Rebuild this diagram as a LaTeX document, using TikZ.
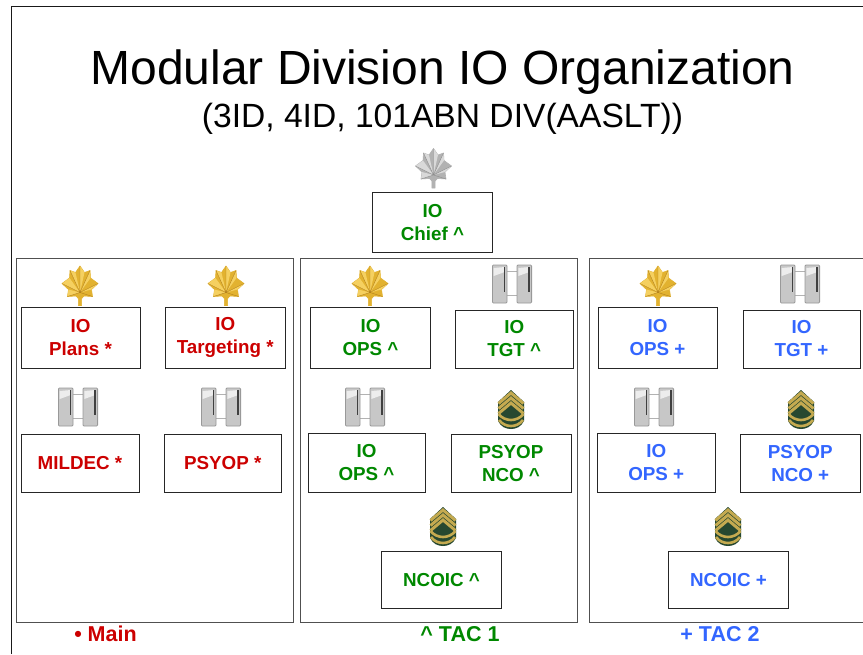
\documentclass[tikz,border=0pt]{standalone}
\usepackage{fontspec}
\setmainfont{Liberation Sans}
\definecolor{redtxt}{RGB}{204,0,0}
\definecolor{greentxt}{RGB}{0,136,0}
\definecolor{bluetxt}{RGB}{51,102,255}
\definecolor{panelline}{RGB}{80,80,80}
\tikzset{
  lbl/.style={font=\fontsize{18.8}{23}\selectfont\bfseries,align=center,inner sep=0pt},
  legend/.style={font=\fontsize{21.5}{21.5}\selectfont\bfseries,inner sep=0pt},
  role/.style={draw=black!85,line width=1pt,fill=white,lbl,execute at begin node={\vspace*{2pt}}},
  panel/.style={draw=panelline,line width=1pt},
  pics/leaf/.style n args={3}{code={
    \fill[#1,draw=#1,line width=.6pt,line join=round] (0,-19.5) -- (4.5,-13) -- (10,-15) -- (10.5,-7.5) -- (18,-2) -- (11.5,4) -- (12.5,11) -- (4,10.5) -- (1.6,13) -- (1.6,20) -- (-1.6,20) -- (-1.6,13) -- (-4,10.5) -- (-12.5,11) -- (-11.5,4) -- (-18,-2) -- (-10.5,-7.5) -- (-10,-15) -- (-4.5,-13) -- cycle;
    \fill[#2] (0,7) -- (0,-19.5) -- (4.5,-13) -- cycle;
    \fill[#2] (0,7) -- (10,-15) -- (10.5,-7.5) -- cycle;
    \fill[#2] (0,7) -- (18,-2) -- (11.5,4) -- cycle;
    \fill[#2] (0,7) -- (-10,-15) -- (-4.5,-13) -- cycle;
    \fill[#2] (0,7) -- (-18,-2) -- (-10.5,-7.5) -- cycle;
    \fill[#2] (0,7) -- (-12.5,11) -- (-11.5,4) -- cycle;
    \draw[#3,line width=.4pt] (0,7) -- (0,-19.5) (0,7) -- (10,-15) (0,7) -- (18,-2) (0,7) -- (12.5,11) (0,7) -- (-10,-15) (0,7) -- (-18,-2) (0,7) -- (-12.5,11);
  }},
  pics/bars/.style={code={
    \draw[black!30,line width=.8pt] (-6,-13) -- (6,-13) (-6,11) -- (6,11);
    \foreach \s in {-1,1}{
      \begin{scope}[shift={(\s*12.3,0)}]
        \fill[black!22,draw=black!40,line width=.8pt,rounded corners=1pt] (-7.3,-19) rectangle (7.3,19);
        \fill[black!7] (-6,-16) -- (5,-17) -- (5,-12) -- (-6,-8) -- cycle;
        \fill[black!75] (4,-17) rectangle (5.6,8);
      \end{scope}
    }
  }},
  pics/msg/.style={code={
    \definecolor{msgold}{RGB}{196,170,80}
    \definecolor{msgreen}{RGB}{38,72,48}
    \fill[msgreen] (0,-20) -- (13,-8) -- (13,11) .. controls (10,17) and (5,19) .. (0,19) .. controls (-5,19) and (-10,17) .. (-13,11) -- (-13,-8) -- cycle;
    \draw[msgold,line width=3pt] (-12.5,-6.5) -- (0,-17) -- (12.5,-6.5);
    \draw[msgold,line width=3pt] (-12.5,-1.5) -- (0,-12) -- (12.5,-1.5);
    \draw[msgold,line width=3pt] (-12.5,3.5) -- (0,-7) -- (12.5,3.5);
    \draw[msgold,line width=2.6pt] (-12.5,4) .. controls (-6,12) and (6,12) .. (12.5,4);
    \draw[msgold,line width=2.6pt] (-12,10) .. controls (-6,18) and (6,18) .. (12,10);
  }},
}
\begin{document}
\begin{tikzpicture}[x=1pt,y=-1pt]
\useasboundingbox (0,0) rectangle (863,654);
\fill[white] (0,0) rectangle (863,654);
\draw[black!90,line width=1pt] (11,654) -- (11,6.5) -- (863,6.5);
\node[font=\fontsize{48}{48}\selectfont,inner sep=0pt] (title) at (442.5,72) {Modular Division IO Organization};
\node[font=\fontsize{33.6}{33.6}\selectfont,inner sep=0pt] (subtitle) at (442.5,119) {(3ID, 4ID, 101ABN DIV(AASLT))};
% panels
\draw[panel] (16,258) rectangle (293,622);
\draw[panel] (300.5,258) rectangle (577,622);
\draw[panel] (863,258) -- (589.5,258) -- (589.5,622) -- (863,622);
% boxes
\newcommand{\rolebox}[7]{\node[role,text=#6,minimum width=#3 pt,minimum height=#4 pt,anchor=north west] (#5) at (#1-.5,#2-.5) {#7};}
\rolebox{372.5}{192.5}{120}{60}{chief}{greentxt}{IO\\Chief \textasciicircum}
\rolebox{21}{307.5}{119}{60.5}{plans}{redtxt}{IO\\Plans *}
\rolebox{165.5}{307.5}{119.5}{60.5}{targeting}{redtxt}{IO\\Targeting *}
\rolebox{21}{434}{118}{58.5}{mildec}{redtxt}{MILDEC *}
\rolebox{164}{434}{117.5}{58.5}{psyopm}{redtxt}{PSYOP *}
\rolebox{310.5}{307.5}{120}{60.5}{opsa}{greentxt}{IO\\OPS \textasciicircum}
\rolebox{455.5}{310}{117.5}{58}{tgta}{greentxt}{IO\\TGT \textasciicircum}
\rolebox{308}{433.5}{117}{59}{opsb}{greentxt}{IO\\OPS \textasciicircum}
\rolebox{451}{434}{120}{58.5}{ncoa}{greentxt}{PSYOP\\NCO \textasciicircum}
\rolebox{381.5}{551}{120}{57.5}{ncoica}{greentxt}{NCOIC \textasciicircum}
\rolebox{598}{307.5}{119}{60.5}{opsc}{bluetxt}{IO\\OPS +}
\rolebox{743}{310}{117}{58}{tgtc}{bluetxt}{IO\\TGT +}
\rolebox{597.5}{433.5}{117.5}{59}{opsd}{bluetxt}{IO\\OPS +}
\rolebox{740.5}{434}{119.5}{58.5}{ncoc}{bluetxt}{PSYOP\\NCO +}
\rolebox{668.5}{551}{120}{57.5}{ncoicc}{bluetxt}{NCOIC +}
% legend
\node[legend,text=redtxt] (lmain) at (105.5,634) {• Main};
\node[legend,text=greentxt] (ltac1) at (460,634) {\textasciicircum{} TAC 1};
\node[legend,text=bluetxt] (ltac2) at (720,634) {+ TAC 2};
% insignia
\definecolor{gold}{RGB}{226,178,48}
\definecolor{goldlt}{RGB}{245,208,96}
\definecolor{golddk}{RGB}{180,130,30}
\pic at (433.5,168) {leaf={black!30}{black!15}{black!45}};
\foreach \px in {80,226,370,658}
  \pic at (\px,285.5) {leaf={gold}{goldlt}{golddk}};
\foreach \px/\py in {78/407,221/407,365/407,512/284,654/407,800/284}
  \pic at (\px,\py) {bars};
\foreach \px/\py in {511/410,443/527,801/410,728/527}
  \pic at (\px,\py) {msg};
\end{tikzpicture}
\end{document}
